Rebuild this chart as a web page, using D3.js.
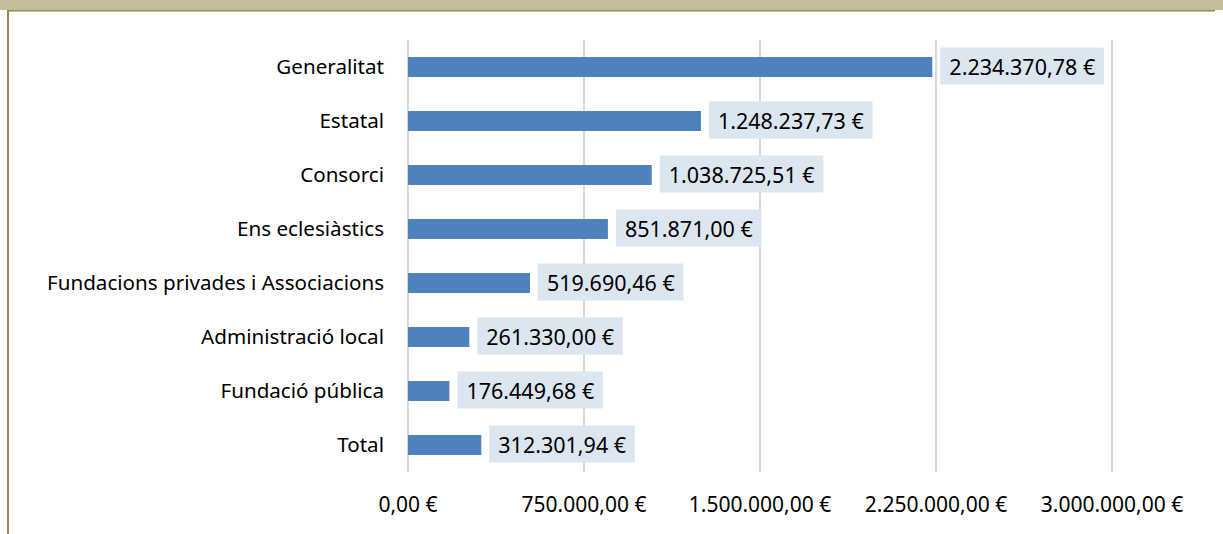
<!DOCTYPE html>
<html>
<head>
<meta charset="utf-8">
<script src="https://cdn.jsdelivr.net/npm/d3@7"></script>
<style>
  body { margin: 0; background: #fff; }
  svg { display: block; }
  text { font-family: "Noto Sans", sans-serif; fill: #000; }
</style>
</head>
<body>
<div id="chart"></div>
<script>
// data
var categories = ["Generalitat", "Estatal", "Consorci", "Ens eclesiàstics",
  "Fundacions privades i Associacions", "Administració local", "Fundació pública", "Total"];
var amounts = [2234370.78, 1248237.73, 1038725.51, 851871.00, 519690.46, 261330.00, 176449.68, 312301.94];
var tickValues = [0, 750000, 1500000, 2250000, 3000000];

var W = 1223, H = 534;
var data = categories.map(function (c, i) { return { cat: c, val: amounts[i] }; });

var loc = d3.formatLocale({ decimal: ",", thousands: ".", grouping: [3], currency: ["", " €"] });
var fmt = loc.format("$,.2f");

var svg = d3.select("#chart").append("svg").attr("width", W).attr("height", H);

// frame: top band and left border
svg.append("rect").attr("x", 0).attr("y", 0).attr("width", W).attr("height", 10).attr("fill", "#c4bd97");
svg.append("rect").attr("x", 7).attr("y", 10).attr("width", 1208).attr("height", 1.5).attr("fill", "#938953");
svg.append("rect").attr("x", 7).attr("y", 10).attr("width", 2).attr("height", H - 10).attr("fill", "#938953");

var x = d3.scaleLinear().domain([0, 3000000]).range([408, 1112]);
var y = d3.scaleBand().domain(categories).range([40, 472]).paddingInner(0.63).paddingOuter(0.315);

// gridlines
svg.selectAll("line.grid").data(tickValues).enter().append("line")
  .attr("class", "grid")
  .attr("x1", function (d) { return x(d); }).attr("x2", function (d) { return x(d); })
  .attr("y1", 40).attr("y2", 472)
  .attr("stroke", "#d9d9d9").attr("stroke-width", 2);

// x tick labels
svg.selectAll("text.xt").data(tickValues).enter().append("text")
  .attr("class", "xt")
  .attr("x", function (d) { return x(d); })
  .attr("y", 512)
  .attr("text-anchor", "middle")
  .style("font-size", "21px")
  .text(function (d) { return fmt(d); });

// category labels
svg.selectAll("text.cat").data(data).enter().append("text")
  .attr("class", "cat")
  .attr("x", 384)
  .attr("y", function (d) { return y(d.cat) + y.bandwidth() / 2; })
  .attr("dy", "0.35em")
  .attr("text-anchor", "end")
  .style("font-size", "20.6px")
  .text(function (d) { return d.cat; });

// bars
svg.selectAll("rect.bar").data(data).enter().append("rect")
  .attr("class", "bar")
  .attr("x", x(0))
  .attr("y", function (d) { return y(d.cat); })
  .attr("width", function (d) { return x(d.val) - x(0); })
  .attr("height", y.bandwidth())
  .attr("fill", "#4f81bd");

// value labels with boxes
var lab = svg.selectAll("g.lab").data(data).enter().append("g").attr("class", "lab");
lab.append("text")
  .attr("x", function (d) { return x(d.val) + 17; })
  .attr("y", function (d) { return y(d.cat) + y.bandwidth() / 2; })
  .attr("dy", "0.35em")
  .style("font-size", "21.5px")
  .text(function (d) { return fmt(d.val); });
lab.each(function () {
  var g = d3.select(this), t = g.select("text");
  var bb = t.node().getBBox();
  g.insert("rect", "text")
    .attr("x", bb.x - 9).attr("y", bb.y + bb.height / 2 - 18.5)
    .attr("width", bb.width + 17).attr("height", 37)
    .attr("fill", "#dce6f1");
});
</script>
</body>
</html>
